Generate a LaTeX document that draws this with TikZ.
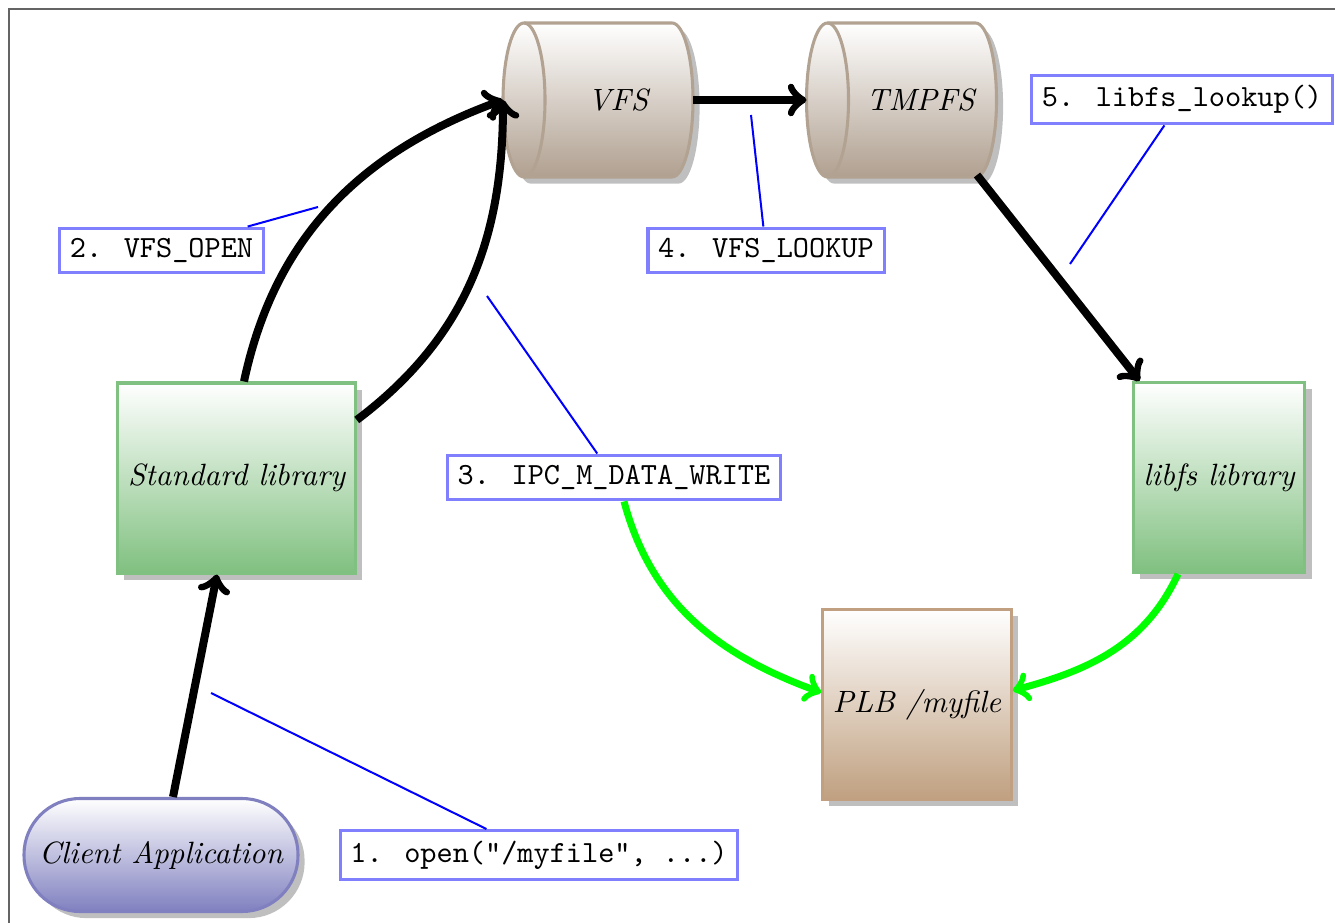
\documentclass[tikz,border=0pt]{standalone}
\usepackage{fontspec}
\usetikzlibrary{calc,shadows}

\newdimen\pxu
\pxu=0.3247pt

\definecolor{cylfill}{RGB}{176,160,144}
\definecolor{cylline}{RGB}{178,162,146}
\definecolor{libfill}{RGB}{128,192,128}
\definecolor{appfill}{RGB}{128,128,192}
\definecolor{plbfill}{RGB}{192,160,128}
\definecolor{framegray}{RGB}{100,100,100}

\tikzset{
  boxbase/.style={rectangle, line width=1pt, minimum height=190*\pxu,
    font=\itshape, drop shadow, top color=white},
  libnode/.style={boxbase, draw=libfill, bottom color=libfill},
  plbnode/.style={boxbase, draw=plbfill, bottom color=plbfill},
  appnode/.style={rectangle, rounded corners=56*\pxu, line width=1pt,
    draw=appfill, top color=white, bottom color=appfill, drop shadow,
    minimum width=274*\pxu, minimum height=113*\pxu, font=\itshape},
  cylnode/.style={rectangle, draw=none, inner sep=0pt, outer sep=0pt,
    minimum width=190*\pxu, minimum height=154*\pxu},
  cyltext/.style={font=\itshape},
  labelbox/.style={rectangle, draw=blue!50, line width=1pt, fill=white,
    font=\ttfamily},
  flow/.style={draw=black, line width=8*\pxu, ->},
  gflow/.style={draw=green, line width=7*\pxu, ->},
  pinline/.style={draw=blue, line width=2*\pxu},
}

% horizontal cylinder around a node: shadow, shaded body, outline, front rim
\newcommand\drawcyl[1]{%
  \fill[black!50, opacity=.5]
    ($(#1.north west)+(21+6.6,-6.6)$) -- ($(#1.north east)+(-21+6.6,-6.6)$)
    arc[start angle=90, end angle=-90, x radius=21, y radius=77]
    -- ($(#1.south west)+(21+6.6,-6.6)$)
    arc[start angle=270, end angle=90, x radius=21, y radius=77] -- cycle;
  \path[top color=white, bottom color=cylfill, draw=cylline, line width=1pt]
    ($(#1.north west)+(21,0)$) -- ($(#1.north east)+(-21,0)$)
    arc[start angle=90, end angle=-90, x radius=21, y radius=77]
    -- ($(#1.south west)+(21,0)$)
    arc[start angle=270, end angle=90, x radius=21, y radius=77] -- cycle;
  \draw[cylline, line width=1pt]
    ($(#1.north west)+(21,0)$)
    arc[start angle=90, end angle=-90, x radius=21, y radius=77];
}

\begin{document}
\begin{tikzpicture}[x=\pxu, y=\pxu]
\useasboundingbox (0,0) rectangle (1335,922);
\clip (0,0) rectangle (1335,922);
\draw[framegray, line width=0.4pt] (9,913) rectangle (1360,-30);

% components
\node[appnode] (client) at (161,67) {Client Application};
\node[libnode] (stdlib) at (236.5,444) {Standard library};
\node[libnode] (libfs) at (1219,444.5) {libfs library};
\node[plbnode] (plb) at (917,217.5) {PLB /myfile};

\node[cylnode] (vfs) at (598,822) {};
\node[cylnode] (tmpfs) at (901.5,822) {};
\drawcyl{vfs}
\drawcyl{tmpfs}
\node[cyltext] (vfstext) at ($(vfs.center)+(20,0)$) {VFS};
\node[cyltext] (tmpfstext) at ($(tmpfs.center)+(19,0)$) {TMPFS};

% step labels
\node[labelbox] (l1) at (539,67) {1. open("/myfile", ...)};
\node[labelbox] (l2) at (161.5,671.5) {2. VFS\_OPEN};
\node[labelbox] (l3) at (614,444.5) {3. IPC\_M\_DATA\_WRITE};
\node[labelbox] (l4) at (766,671.5) {4. VFS\_LOOKUP};
\node[labelbox] (l5) at (1182,822.5) {5. libfs\_lookup()};

% call flow
\draw[flow] ($(client.north)+(12,0)$) -- ($(stdlib.south)+(-19.5,0)$);
\draw[flow] ($(stdlib.north)+(7.5,0)$) to[out=78, in=200] (vfs.west);
\draw[flow] ($(stdlib.east)+(0,58)$) to[out=37, in=-90] (vfs.west);
\draw[flow] (vfs.east) -- (tmpfs.west);
\draw[flow] ($(tmpfs.south east)+(-19.5,2)$) -- ($(libfs.north west)+(8,0)$);

% data flow
\draw[gflow] ($(l3.south)+(10,0)$) to[out=-75, in=160] ($(plb.west)+(0,12)$);
\draw[gflow] ($(libfs.south)+(-41,0)$) to[out=-115, in=15] ($(plb.east)+(0,14)$);

% label pins
\coordinate (p1) at (211,229);
\coordinate (p2) at (318,715);
\coordinate (p3) at (487,626);
\coordinate (p4) at (751,807);
\coordinate (p5) at (1070,658);
\draw[pinline] (p1) -- (l1);
\draw[pinline] (p2) -- (l2);
\draw[pinline] (p3) -- (l3);
\draw[pinline] (p4) -- (l4);
\draw[pinline] (p5) -- (l5);
\end{tikzpicture}
\end{document}
